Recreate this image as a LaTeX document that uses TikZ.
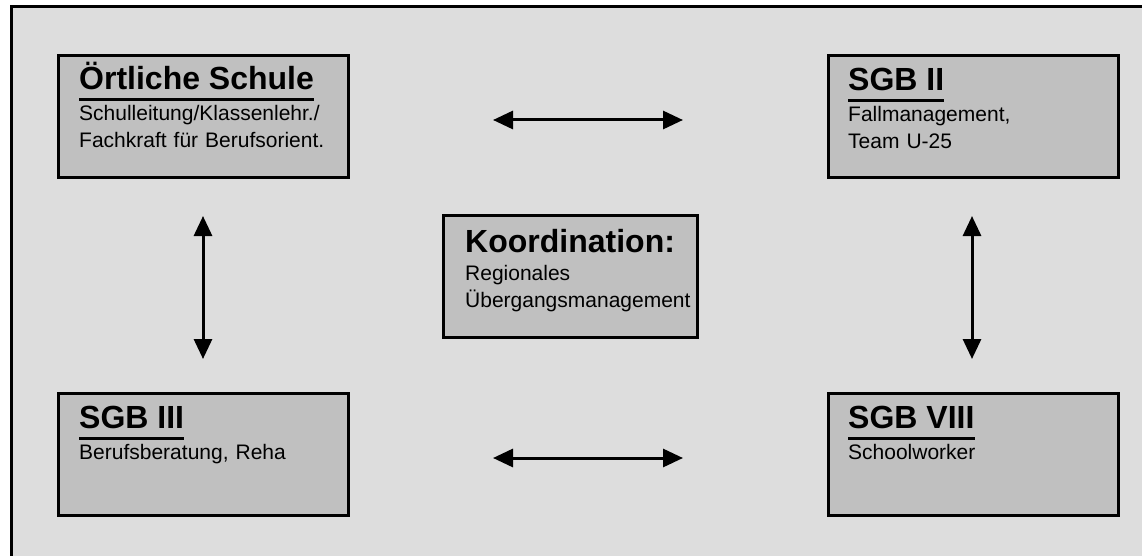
\documentclass[tikz,border=0pt]{standalone}
\usepackage{fontspec}
\setmainfont{Liberation Sans}
\usetikzlibrary{arrows.meta}
\usetikzlibrary{positioning}
\definecolor{framegray}{RGB}{221,221,221}
\definecolor{boxgray}{RGB}{192,192,192}
\tikzset {
  % outer grey frame
  frame/.style = {
    draw = black,
    line width = 3pt,
    fill = framegray
  },
  % partner box
  box/.style = {
    draw = black,
    line width = 3pt,
    fill = boxgray,
    rectangle,
    anchor = north west,
    outer sep = 0,
    minimum width = 290pt,
    minimum height = 122pt
  },
  title/.style = {
    font = \bfseries\fontsize{32}{38}\selectfont,
    inner sep = 0,
    anchor = base west
  },
  % text width keeps the base on the first line
  body/.style = {
    font = \fontsize{21}{27}\selectfont,
    inner sep = 0,
    anchor = base west,
    text width = 260pt,
    align = left
  },
  % line under a title
  titleline/.style = {
    draw = black,
    line width = 3pt
  },
  % double arrow between boxes
  link/.style = {
    draw = black,
    line width = 3pt,
    arrows = {Triangle[length=20pt,width=18pt]-Triangle[length=20pt,width=18pt]}
  }
}

\begin{document}
\begin{tikzpicture}[x=1pt,y=-1pt]
    \useasboundingbox (0,0) rectangle (1142,556);
    \clip (0,0) rectangle (1142,556);
    \path[frame] (11,7) rectangle (1152,568);

    \node[box] (schule) at (58,56) {};
    \node[box] (sgbzwei) at (828,56) {};
    \node[box] (sgbdrei) at (58,393) {};
    \node[box] (sgbacht) at (828,393) {};
    \node[box, minimum width = 254pt] (koord) at (443,215) {};

    \node[title] (schule-t) at ([shift={(21,34)}]schule.north west) {Örtliche Schule};
    \node[title] (sgbzwei-t) at ([shift={(20,35)}]sgbzwei.north west) {SGB II};
    \node[title] (sgbdrei-t) at ([shift={(21,35)}]sgbdrei.north west) {SGB III};
    \node[title] (sgbacht-t) at ([shift={(20,35)}]sgbacht.north west) {SGB VIII};
    \node[title] (koord-t) at ([shift={(22,37)}]koord.north west) {Koordination:};

    \node[body] (schule-b) at ([shift={(0,31)}]schule-t.base west) {Schulleitung/Klassenlehr./\\Fachkraft für Berufsorient.};
    \node[body] (sgbzwei-b) at ([shift={(0,31)}]sgbzwei-t.base west) {Fallmanagement,\\Team U-25};
    \node[body] (sgbdrei-b) at ([shift={(0,31)}]sgbdrei-t.base west) {Berufsberatung, Reha};
    \node[body] (sgbacht-b) at ([shift={(0,31)}]sgbacht-t.base west) {Schoolworker};
    \node[body] (koord-b) at ([shift={(0,28)}]koord-t.base west) {Regionales\\Übergangsmanagement};

    \foreach \t in {schule-t, sgbzwei-t, sgbdrei-t, sgbacht-t}
      \draw[titleline] ([yshift=-10pt]\t.base west) -- ([yshift=-10pt]\t.base east);

    \draw[link, shorten <= 145pt, shorten >= 145pt]
      ([yshift=-3pt]schule.east) -- ([yshift=-3pt]sgbzwei.east -| sgbzwei.west);
    \draw[link, shorten <= 145pt, shorten >= 145pt]
      ([yshift=-4pt]sgbdrei.east) -- ([yshift=-4pt]sgbacht.east -| sgbacht.west);
    \draw[link, shorten <= 38pt, shorten >= 34pt]
      (schule.south) -- (sgbdrei.north);
    \draw[link, shorten <= 38pt, shorten >= 34pt]
      ([xshift=-1pt]sgbzwei.south) -- ([xshift=-1pt]sgbacht.north);
  \end{tikzpicture}
\end{document}
